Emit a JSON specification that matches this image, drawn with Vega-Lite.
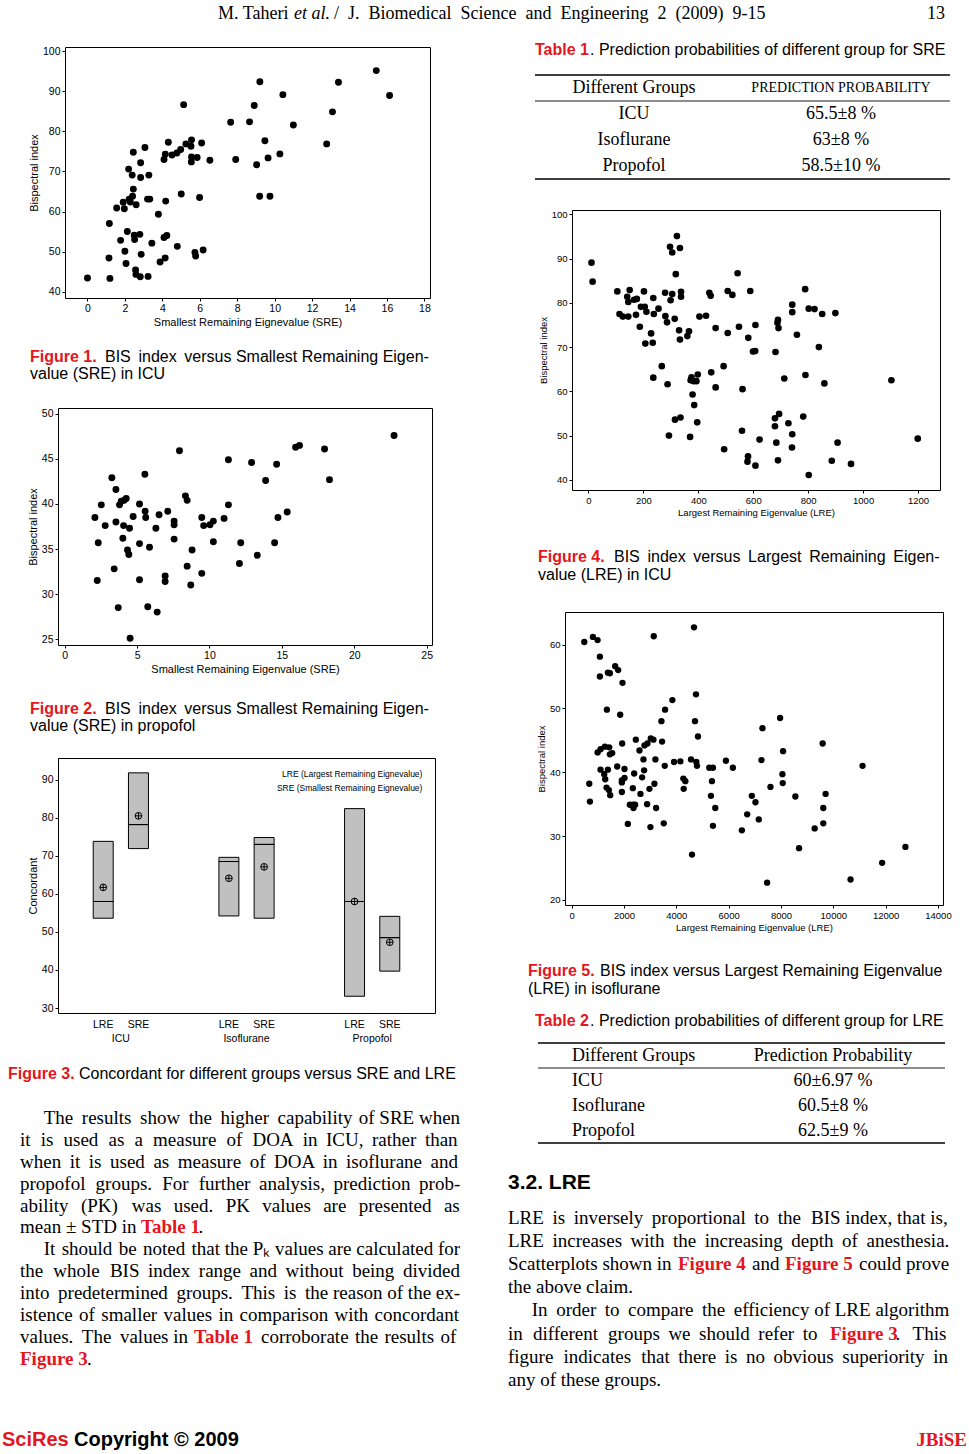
{
"$schema": "https://vega.github.io/schema/vega-lite/v6.json",
"padding": 0,
"background": "white",
"spacing": 0,
"bounds": "flush",
"config": {
 "view": {"stroke": null},
 "font": "Liberation Sans",
 "axis": {"grid": false, "domain": false, "ticks": true, "tickColor": "#000", "tickSize": 3, "labelColor": "#000", "titleColor": "#000", "titleFontWeight": "normal", "labelFont": "Liberation Sans", "titleFont": "Liberation Sans", "labelPadding": 2, "titlePadding": 3, "labelFlush": false}
},
"vconcat": [
 {"width": 969, "height": 41,
  "encoding": {"y": {"datum": 14, "type": "quantitative", "scale": {"domain": [0, 41], "reverse": true, "nice": false, "zero": false}, "axis": null}, "text": {"field": "t"}},
  "layer": [
   {"data": {"values": [{"t": "M. Taheri"}]}, "mark": {"type": "text", "align": "left", "baseline": "middle", "font": "Liberation Serif", "fontSize": 18, "color": "#000"}, "encoding": {"x": {"datum": 218, "type": "quantitative", "scale": {"domain": [0, 969], "nice": false, "zero": false}, "axis": null}}},
   {"data": {"values": [{"t": "et al."}]}, "mark": {"type": "text", "align": "left", "baseline": "middle", "font": "Liberation Serif", "fontSize": 18, "fontStyle": "italic", "color": "#000"}, "encoding": {"x": {"datum": 294, "type": "quantitative", "scale": {"domain": [0, 969], "nice": false, "zero": false}, "axis": null}}},
   {"data": {"values": [{"t": "/\u00a0 J.\u00a0 Biomedical\u00a0 Science\u00a0 and\u00a0 Engineering\u00a0 2\u00a0 (2009)\u00a0 9-15"}]}, "mark": {"type": "text", "align": "left", "baseline": "middle", "font": "Liberation Serif", "fontSize": 18, "color": "#000"}, "encoding": {"x": {"datum": 334, "type": "quantitative", "scale": {"domain": [0, 969], "nice": false, "zero": false}, "axis": null}}},
   {"data": {"values": [{"t": "13"}]}, "mark": {"type": "text", "align": "right", "baseline": "middle", "font": "Liberation Serif", "fontSize": 18, "color": "#000"}, "encoding": {"x": {"datum": 945, "type": "quantitative", "scale": {"domain": [0, 969], "nice": false, "zero": false}, "axis": null}}}
  ]},
 {"hconcat": [
  {"vconcat": [
   {"width": 1, "height": 6, "data": {"values": []}, "mark": "point"},
   {"hconcat": [
    {"width": 65, "height": 1, "data": {"values": []}, "mark": "point"},
    {"width": 365, "height": 251, "view": {"stroke": "#000", "strokeWidth": 1},
     "data": {"values": [{"SRE":0,"BIS":43.4},{"SRE":1.17,"BIS":57},{"SRE":1.15,"BIS":48.4},{"SRE":1.2,"BIS":43.3},{"SRE":1.56,"BIS":60.9},{"SRE":1.77,"BIS":52.8},{"SRE":1.91,"BIS":62.3},{"SRE":1.97,"BIS":60.7},{"SRE":2,"BIS":50.1},{"SRE":2.06,"BIS":47},{"SRE":2.13,"BIS":55},{"SRE":2.2,"BIS":70.6},{"SRE":2.23,"BIS":63.1},{"SRE":2.29,"BIS":62.4},{"SRE":2.39,"BIS":69.1},{"SRE":2.41,"BIS":63.8},{"SRE":2.45,"BIS":65.6},{"SRE":2.45,"BIS":74.8},{"SRE":2.5,"BIS":54.1},{"SRE":2.52,"BIS":53},{"SRE":2.57,"BIS":45.4},{"SRE":2.59,"BIS":44.3},{"SRE":2.6,"BIS":61.7},{"SRE":2.8,"BIS":54.3},{"SRE":2.82,"BIS":43.7},{"SRE":2.84,"BIS":72.2},{"SRE":2.84,"BIS":68.5},{"SRE":2.87,"BIS":49.3},{"SRE":3.07,"BIS":76},{"SRE":3.21,"BIS":63.1},{"SRE":3.28,"BIS":69.1},{"SRE":3.33,"BIS":63.1},{"SRE":3.24,"BIS":43.8},{"SRE":3.44,"BIS":52.1},{"SRE":3.79,"BIS":59.3},{"SRE":3.88,"BIS":47.4},{"SRE":4.09,"BIS":73},{"SRE":4.16,"BIS":74.3},{"SRE":4.09,"BIS":53.5},{"SRE":4.24,"BIS":54},{"SRE":4.15,"BIS":48.4},{"SRE":4.18,"BIS":62.6},{"SRE":4.32,"BIS":77.3},{"SRE":4.52,"BIS":74.1},{"SRE":4.78,"BIS":74.6},{"SRE":4.8,"BIS":51.3},{"SRE":4.98,"BIS":75.5},{"SRE":5.01,"BIS":64.4},{"SRE":5.14,"BIS":86.7},{"SRE":5.26,"BIS":76.9},{"SRE":5.53,"BIS":76.3},{"SRE":5.56,"BIS":77.9},{"SRE":5.56,"BIS":73.6},{"SRE":5.55,"BIS":72.4},{"SRE":5.74,"BIS":49.8},{"SRE":5.78,"BIS":48.9},{"SRE":5.86,"BIS":73.5},{"SRE":5.99,"BIS":63.5},{"SRE":6.1,"BIS":77.1},{"SRE":6.18,"BIS":50.4},{"SRE":6.54,"BIS":72.8},{"SRE":7.65,"BIS":82.3},{"SRE":7.92,"BIS":73},{"SRE":8.66,"BIS":82.4},{"SRE":8.91,"BIS":86.5},{"SRE":9.04,"BIS":71.7},{"SRE":9.21,"BIS":92.4},{"SRE":9.2,"BIS":63.8},{"SRE":9.48,"BIS":77.7},{"SRE":9.65,"BIS":73.4},{"SRE":9.75,"BIS":63.8},{"SRE":10.28,"BIS":74.4},{"SRE":10.44,"BIS":89.2},{"SRE":11,"BIS":81.6},{"SRE":12.78,"BIS":76.9},{"SRE":13.09,"BIS":84.9},{"SRE":13.41,"BIS":92.3},{"SRE":15.43,"BIS":95.2},{"SRE":16.14,"BIS":89}]},
     "mark": {"type": "point", "filled": true, "color": "#000", "opacity": 1, "size": 48},
     "encoding": {
      "x": {"field": "SRE", "type": "quantitative", "scale": {"domain": [-1.2, 18.3], "nice": false, "zero": false}, "axis": {"title": "Smallest Remaining Eignevalue (SRE)", "values": [0,2,4,6,8,10,12,14,16,18], "labelFontSize": 10.5, "titleFontSize": 11}},
      "y": {"field": "BIS", "type": "quantitative", "scale": {"domain": [38.4, 101.1], "nice": false, "zero": false}, "axis": {"title": "Bispectral index", "values": [40,50,60,70,80,90,100], "labelFontSize": 10.5, "titleFontSize": 11}}
     }}
   ], "spacing": 0, "bounds": "flush"},
   {"width": 1, "height": 301, "data": {"values": []}, "mark": "point"},
   {"width": 460, "height": 35,
    "encoding": {"y": {"field": "line", "type": "quantitative", "scale": {"domain": [-0.5, 1.5], "reverse": true, "nice": false, "zero": false}, "axis": null}, "text": {"field": "t"}},
    "layer": [
     {"data": {"values": [{"line": 0, "t": "Figure 1."}]}, "mark": {"type": "text", "align": "left", "baseline": "middle", "font": "Liberation Sans", "fontSize": 16, "fontWeight": "bold", "color": "#e3161d"}, "encoding": {"x": {"datum": 30, "type": "quantitative", "scale": {"domain": [0, 460], "nice": false, "zero": false}, "axis": null}}},
     {"data": {"values": [{"line": 0, "t": "BIS \u2009index \u2009versus Smallest Remaining Eigen-"}]}, "mark": {"type": "text", "align": "left", "baseline": "middle", "font": "Liberation Sans", "fontSize": 16, "color": "#000"}, "encoding": {"x": {"datum": 105, "type": "quantitative", "scale": {"domain": [0, 460], "nice": false, "zero": false}, "axis": null}}},
     {"data": {"values": [{"line": 1, "t": "value (SRE) in ICU"}]}, "mark": {"type": "text", "align": "left", "baseline": "middle", "font": "Liberation Sans", "fontSize": 16, "color": "#000"}, "encoding": {"x": {"datum": 30, "type": "quantitative", "scale": {"domain": [0, 460], "nice": false, "zero": false}, "axis": null}}}
    ]},
   {"width": 1, "height": 25, "data": {"values": []}, "mark": "point"},
   {"hconcat": [
    {"width": 58, "height": 1, "data": {"values": []}, "mark": "point"},
    {"width": 374, "height": 237, "view": {"stroke": "#000", "strokeWidth": 1},
     "data": {"values": [{"SRE":2.09,"BIS":38.5},{"SRE":2.32,"BIS":35.7},{"SRE":2.25,"BIS":31.5},{"SRE":2.53,"BIS":39.9},{"SRE":2.8,"BIS":37.6},{"SRE":3.26,"BIS":42.9},{"SRE":3.42,"BIS":32.8},{"SRE":3.54,"BIS":41.6},{"SRE":3.54,"BIS":38},{"SRE":3.7,"BIS":28.5},{"SRE":3.79,"BIS":39.9},{"SRE":3.91,"BIS":40.3},{"SRE":4.02,"BIS":36.2},{"SRE":4.07,"BIS":37.6},{"SRE":4.11,"BIS":40.4},{"SRE":4.25,"BIS":40.6},{"SRE":4.34,"BIS":34.9},{"SRE":4.43,"BIS":34.4},{"SRE":4.48,"BIS":37.3},{"SRE":4.52,"BIS":25.1},{"SRE":4.73,"BIS":38.6},{"SRE":5.17,"BIS":40},{"SRE":5.17,"BIS":35.6},{"SRE":5.17,"BIS":31.6},{"SRE":5.54,"BIS":43.3},{"SRE":5.56,"BIS":39.2},{"SRE":5.6,"BIS":38.5},{"SRE":5.74,"BIS":28.6},{"SRE":5.86,"BIS":35.2},{"SRE":6.3,"BIS":37.3},{"SRE":6.39,"BIS":28},{"SRE":6.52,"BIS":38.8},{"SRE":6.94,"BIS":32},{"SRE":6.94,"BIS":31.4},{"SRE":7.12,"BIS":39.2},{"SRE":7.56,"BIS":38.1},{"SRE":7.56,"BIS":37.7},{"SRE":7.56,"BIS":36.1},{"SRE":7.93,"BIS":45.9},{"SRE":8.34,"BIS":40.9},{"SRE":8.46,"BIS":40.4},{"SRE":8.46,"BIS":33.1},{"SRE":8.71,"BIS":31},{"SRE":8.8,"BIS":34.9},{"SRE":9.47,"BIS":38.5},{"SRE":9.47,"BIS":32.3},{"SRE":9.6,"BIS":37.6},{"SRE":10.04,"BIS":37.7},{"SRE":10.27,"BIS":38.1},{"SRE":10.27,"BIS":35.8},{"SRE":11.01,"BIS":38.4},{"SRE":11.31,"BIS":44.9},{"SRE":11.31,"BIS":39.9},{"SRE":12.16,"BIS":35.7},{"SRE":12.07,"BIS":33.4},{"SRE":12.91,"BIS":44.6},{"SRE":13.3,"BIS":34.3},{"SRE":13.88,"BIS":42.6},{"SRE":14.5,"BIS":35.7},{"SRE":14.64,"BIS":44.4},{"SRE":14.73,"BIS":38.5},{"SRE":15.37,"BIS":39.1},{"SRE":15.95,"BIS":46.3},{"SRE":16.22,"BIS":46.5},{"SRE":17.95,"BIS":46.1},{"SRE":18.29,"BIS":42.7},{"SRE":22.75,"BIS":47.6}]},
     "mark": {"type": "point", "filled": true, "color": "#000", "opacity": 1, "size": 48},
     "encoding": {
      "x": {"field": "SRE", "type": "quantitative", "scale": {"domain": [-0.46, 25.37], "nice": false, "zero": false}, "axis": {"title": "Smallest Remaining Eigenvalue (SRE)", "values": [0,5,10,15,20,25], "labelFontSize": 10.5, "titleFontSize": 11}},
      "y": {"field": "BIS", "type": "quantitative", "scale": {"domain": [24.35, 50.65], "nice": false, "zero": false}, "axis": {"title": "Bispectral index", "values": [25,30,35,40,45,50], "labelFontSize": 10.5, "titleFontSize": 11}}
     }}
   ], "spacing": 0, "bounds": "flush"},
   {"width": 1, "height": 292, "data": {"values": []}, "mark": "point"},
   {"width": 460, "height": 35,
    "encoding": {"y": {"field": "line", "type": "quantitative", "scale": {"domain": [-0.5, 1.5], "reverse": true, "nice": false, "zero": false}, "axis": null}, "text": {"field": "t"}},
    "layer": [
     {"data": {"values": [{"line": 0, "t": "Figure 2."}]}, "mark": {"type": "text", "align": "left", "baseline": "middle", "font": "Liberation Sans", "fontSize": 16, "fontWeight": "bold", "color": "#e3161d"}, "encoding": {"x": {"datum": 30, "type": "quantitative", "scale": {"domain": [0, 460], "nice": false, "zero": false}, "axis": null}}},
     {"data": {"values": [{"line": 0, "t": "BIS \u2009index \u2009versus Smallest Remaining Eigen-"}]}, "mark": {"type": "text", "align": "left", "baseline": "middle", "font": "Liberation Sans", "fontSize": 16, "color": "#000"}, "encoding": {"x": {"datum": 105, "type": "quantitative", "scale": {"domain": [0, 460], "nice": false, "zero": false}, "axis": null}}},
     {"data": {"values": [{"line": 1, "t": "value (SRE) in propofol"}]}, "mark": {"type": "text", "align": "left", "baseline": "middle", "font": "Liberation Sans", "fontSize": 16, "color": "#000"}, "encoding": {"x": {"datum": 30, "type": "quantitative", "scale": {"domain": [0, 460], "nice": false, "zero": false}, "axis": null}}}
    ]},
   {"width": 1, "height": 23, "data": {"values": []}, "mark": "point"},
   {"hconcat": [
    {"width": 58, "height": 1, "data": {"values": []}, "mark": "point"},
    {"width": 377, "height": 255, "view": {"stroke": "#000", "strokeWidth": 1},
     "data": {"values": [
      {"group": "ICU", "stat": "LRE", "lo": 53.6, "hi": 73.8, "median": 58, "mean": 61.7},
      {"group": "ICU", "stat": "SRE", "lo": 71.9, "hi": 91.8, "median": 78.2, "mean": 80.5},
      {"group": "Isoflurane", "stat": "LRE", "lo": 54.2, "hi": 69.6, "median": 68.5, "mean": 64.1},
      {"group": "Isoflurane", "stat": "SRE", "lo": 53.6, "hi": 74.8, "median": 73, "mean": 67.1},
      {"group": "Propofol", "stat": "LRE", "lo": 33.1, "hi": 82.4, "median": 58, "mean": 58},
      {"group": "Propofol", "stat": "SRE", "lo": 39.7, "hi": 54.1, "median": 48.5, "mean": 47.3}
     ]},
     "encoding": {
      "x": {"field": "group", "type": "nominal", "sort": null, "scale": {"paddingInner": 0, "paddingOuter": 0}, "axis": {"title": null, "ticks": false, "labelAngle": 0, "labelPadding": 20, "labelFontSize": 10.5}}
     },
     "layer": [
      {"mark": {"type": "bar", "fill": "#c0c0c0", "stroke": "#000", "strokeWidth": 1},
       "encoding": {"xOffset": {"field": "stat", "type": "nominal", "sort": null, "scale": {"paddingInner": 0.4333, "paddingOuter": 1.3}},
        "y": {"field": "lo", "type": "quantitative", "scale": {"domain": [28.7, 95.7], "nice": false, "zero": false}, "axis": {"title": "Concordant", "values": [30,40,50,60,70,80,90], "labelFontSize": 10.5, "titleFontSize": 11}}, "y2": {"field": "hi"}}},
      {"mark": {"type": "bar", "fill": "transparent", "stroke": "#000", "strokeWidth": 1},
       "encoding": {"xOffset": {"field": "stat", "type": "nominal", "sort": null}, "y": {"field": "median", "type": "quantitative"}, "y2": {"field": "median"}}},
      {"mark": {"type": "point", "shape": "circle", "filled": false, "stroke": "#000", "strokeWidth": 1, "size": 45, "opacity": 1},
       "encoding": {"xOffset": {"field": "stat", "type": "nominal", "sort": null}, "y": {"field": "mean", "type": "quantitative"}}},
      {"mark": {"type": "point", "shape": "M-1,0L1,0M0,-1L0,1", "filled": false, "stroke": "#000", "strokeWidth": 1, "size": 45, "opacity": 1},
       "encoding": {"xOffset": {"field": "stat", "type": "nominal", "sort": null}, "y": {"field": "mean", "type": "quantitative"}}},
      {"mark": {"type": "text", "font": "Liberation Sans", "fontSize": 10.5, "baseline": "middle", "align": "center", "color": "#000"},
       "encoding": {"xOffset": {"field": "stat", "type": "nominal", "sort": null}, "y": {"datum": 25.55, "type": "quantitative"}, "text": {"field": "stat"}}},
      {"data": {"values": [{"t": "LRE (Largest Remaining Eignevalue)"}]},
       "mark": {"type": "text", "font": "Liberation Sans", "fontSize": 8.5, "baseline": "middle", "align": "right", "color": "#000"},
       "encoding": {"x": {"datum": "Propofol", "type": "nominal", "bandPosition": 0.9}, "y": {"datum": 91.6, "type": "quantitative"}, "text": {"field": "t"}}},
      {"data": {"values": [{"t": "SRE (Smallest Remaining Eignevalue)"}]},
       "mark": {"type": "text", "font": "Liberation Sans", "fontSize": 8.5, "baseline": "middle", "align": "right", "color": "#000"},
       "encoding": {"x": {"datum": "Propofol", "type": "nominal", "bandPosition": 0.9}, "y": {"datum": 87.8, "type": "quantitative"}, "text": {"field": "t"}}}
     ]}
   ], "spacing": 0, "bounds": "flush"},
   {"width": 1, "height": 307, "data": {"values": []}, "mark": "point"},
   {"width": 460, "height": 18,
    "encoding": {"y": {"field": "line", "type": "quantitative", "scale": {"domain": [-0.5, 0.5], "reverse": true, "nice": false, "zero": false}, "axis": null}, "text": {"field": "t"}},
    "layer": [
     {"data": {"values": [{"line": 0, "t": "Figure 3."}]}, "mark": {"type": "text", "align": "left", "baseline": "middle", "font": "Liberation Sans", "fontSize": 16, "fontWeight": "bold", "color": "#e3161d"}, "encoding": {"x": {"datum": 8, "type": "quantitative", "scale": {"domain": [0, 460], "nice": false, "zero": false}, "axis": null}}},
     {"data": {"values": [{"line": 0, "t": "Concordant for different groups versus SRE and LRE"}]}, "mark": {"type": "text", "align": "left", "baseline": "middle", "font": "Liberation Sans", "fontSize": 16, "color": "#000"}, "encoding": {"x": {"datum": 79, "type": "quantitative", "scale": {"domain": [0, 460], "nice": false, "zero": false}, "axis": null}}}
    ]},
   {"width": 1, "height": 24, "data": {"values": []}, "mark": "point"},
   {"width": 460, "height": 262.8,
    "encoding": {"y": {"field": "line", "type": "quantitative", "scale": {"domain": [-0.5, 11.5], "reverse": true, "nice": false, "zero": false}, "axis": null}, "text": {"field": "t"}},
    "layer": [
     {"data": {"values": [
       {"line": 0, "t": "\u200b\u00a0\u00a0\u00a0\u00a0\u00a0The \u2009results \u2009show \u2009the \u2009higher \u2009capability \u200aof SRE when"},
       {"line": 1, "t": "it \u2009\u200ais \u2009\u200aused \u2009\u200aas \u2009\u200aa \u2009\u200ameasure \u2009\u200aof \u2009\u200aDOA \u2009\u200ain \u2009ICU, \u2009rather \u2009than"},
       {"line": 2, "t": "when \u2009it \u2009is \u2009used \u2009as \u2009measure \u2009of \u2009DOA \u2009in \u2009isoflurane \u2009and"},
       {"line": 3, "t": "propofol \u2009\u200agroups. \u2009\u200aFor \u2009\u200afurther \u2009analysis, \u2009prediction \u2009prob-"},
       {"line": 4, "t": "ability \u2009\u2009(PK) \u2009\u2009\u200awas \u2009\u2009used. \u2009\u2009PK \u2009\u2009values \u2009\u2009are \u2009\u2009presented \u2009\u2009as"},
       {"line": 5, "t": "mean ± STD in"},
       {"line": 6, "t": "\u200b\u00a0\u00a0\u00a0\u00a0\u00a0It \u200ashould \u200abe \u200anoted \u200athat the P\u2096 values are calculated for"},
       {"line": 7, "t": "the \u2009\u200awhole \u2009\u200aBIS \u2009index \u2009range \u2009and \u2009without \u2009being \u2009divided"},
       {"line": 8, "t": "into \u2009predetermined \u2009groups. \u2009This \u2009is \u2009the reason of the ex-"},
       {"line": 9, "t": "istence \u200aof \u200asmaller \u200avalues \u200ain \u200acomparison \u200awith \u200aconcordant"},
       {"line": 10, "t": "values. \u2009The \u2009values in"}
      ]}, "mark": {"type": "text", "align": "left", "baseline": "middle", "font": "Liberation Serif", "fontSize": 19, "color": "#000"}, "encoding": {"x": {"datum": 20, "type": "quantitative", "scale": {"domain": [0, 460], "nice": false, "zero": false}, "axis": null}}},
     {"data": {"values": [{"line": 5, "t": "Table 1"}]}, "mark": {"type": "text", "align": "left", "baseline": "middle", "font": "Liberation Serif", "fontSize": 19, "fontWeight": "bold", "color": "#e3161d"}, "encoding": {"x": {"datum": 141, "type": "quantitative", "scale": {"domain": [0, 460], "nice": false, "zero": false}, "axis": null}}},
     {"data": {"values": [{"line": 5, "t": "."}]}, "mark": {"type": "text", "align": "left", "baseline": "middle", "font": "Liberation Serif", "fontSize": 19, "color": "#000"}, "encoding": {"x": {"datum": 198.5, "type": "quantitative", "scale": {"domain": [0, 460], "nice": false, "zero": false}, "axis": null}}},
     {"data": {"values": [{"line": 10, "t": "Table 1"}]}, "mark": {"type": "text", "align": "left", "baseline": "middle", "font": "Liberation Serif", "fontSize": 19, "fontWeight": "bold", "color": "#e3161d"}, "encoding": {"x": {"datum": 194, "type": "quantitative", "scale": {"domain": [0, 460], "nice": false, "zero": false}, "axis": null}}},
     {"data": {"values": [{"line": 10, "t": "corroborate \u200athe \u200aresults \u200aof"}]}, "mark": {"type": "text", "align": "left", "baseline": "middle", "font": "Liberation Serif", "fontSize": 19, "color": "#000"}, "encoding": {"x": {"datum": 261, "type": "quantitative", "scale": {"domain": [0, 460], "nice": false, "zero": false}, "axis": null}}},
     {"data": {"values": [{"line": 11, "t": "Figure 3"}]}, "mark": {"type": "text", "align": "left", "baseline": "middle", "font": "Liberation Serif", "fontSize": 19, "fontWeight": "bold", "color": "#e3161d"}, "encoding": {"x": {"datum": 20, "type": "quantitative", "scale": {"domain": [0, 460], "nice": false, "zero": false}, "axis": null}}},
     {"data": {"values": [{"line": 11, "t": "."}]}, "mark": {"type": "text", "align": "left", "baseline": "middle", "font": "Liberation Serif", "fontSize": 19, "color": "#000"}, "encoding": {"x": {"datum": 87, "type": "quantitative", "scale": {"domain": [0, 460], "nice": false, "zero": false}, "axis": null}}}
    ]}
  ], "spacing": 0, "bounds": "flush"},
  {"vconcat": [
   {"width": 442, "height": 18,
    "encoding": {"y": {"field": "line", "type": "quantitative", "scale": {"domain": [-0.5, 0.5], "reverse": true, "nice": false, "zero": false}, "axis": null}, "text": {"field": "t"}},
    "layer": [
     {"data": {"values": [{"line": 0, "t": "Table 1"}]}, "mark": {"type": "text", "align": "left", "baseline": "middle", "font": "Liberation Sans", "fontSize": 16, "fontWeight": "bold", "color": "#e3161d"}, "encoding": {"x": {"datum": 27, "type": "quantitative", "scale": {"domain": [0, 442], "nice": false, "zero": false}, "axis": null}}},
     {"data": {"values": [{"line": 0, "t": ". Prediction probabilities of different group for SRE"}]}, "mark": {"type": "text", "align": "left", "baseline": "middle", "font": "Liberation Sans", "fontSize": 16, "color": "#000"}, "encoding": {"x": {"datum": 82, "type": "quantitative", "scale": {"domain": [0, 442], "nice": false, "zero": false}, "axis": null}}}
    ]},
   {"width": 1, "height": 16, "data": {"values": []}, "mark": "point"},
   {"width": 442, "height": 104,
    "data": {"values": [
     {"row": 0, "g": "Different Groups", "p": "PREDICTION PROBABILITY"},
     {"row": 1, "g": "ICU", "p": "65.5±8 %"},
     {"row": 2, "g": "Isoflurane", "p": "63±8 %"},
     {"row": 3, "g": "Propofol", "p": "58.5±10 %"}
    ]},
    "layer": [
     {"data": {"values": [{}]}, "mark": {"type": "rule", "color": "#000", "strokeWidth": 1.3}, "encoding": {"x": {"datum": 27, "type": "quantitative", "scale": {"domain": [0, 442], "nice": false, "zero": false}, "axis": null}, "x2": {"datum": 442}, "y": {"datum": -0.5, "type": "quantitative", "scale": {"domain": [-0.5, 3.5], "reverse": true, "nice": false, "zero": false}, "axis": null}}},
     {"data": {"values": [{}]}, "mark": {"type": "rule", "color": "#000", "strokeWidth": 0.9}, "encoding": {"x": {"datum": 27, "type": "quantitative", "scale": {"domain": [0, 442], "nice": false, "zero": false}, "axis": null}, "x2": {"datum": 442}, "y": {"datum": 0.5, "type": "quantitative", "scale": {"domain": [-0.5, 3.5], "reverse": true, "nice": false, "zero": false}, "axis": null}}},
     {"data": {"values": [{}]}, "mark": {"type": "rule", "color": "#000", "strokeWidth": 1.3}, "encoding": {"x": {"datum": 27, "type": "quantitative", "scale": {"domain": [0, 442], "nice": false, "zero": false}, "axis": null}, "x2": {"datum": 442}, "y": {"datum": 3.5, "type": "quantitative", "scale": {"domain": [-0.5, 3.5], "reverse": true, "nice": false, "zero": false}, "axis": null}}},
     {"mark": {"type": "text", "align": "center", "baseline": "middle", "font": "Liberation Serif", "fontSize": 18, "color": "#000"}, "encoding": {"x": {"datum": 126, "type": "quantitative", "scale": {"domain": [0, 442], "nice": false, "zero": false}, "axis": null}, "y": {"field": "row", "type": "quantitative", "scale": {"domain": [-0.5, 3.5], "reverse": true, "nice": false, "zero": false}, "axis": null}, "text": {"field": "g"}}},
     {"transform": [{"filter": "datum.row > 0"}], "mark": {"type": "text", "align": "center", "baseline": "middle", "font": "Liberation Serif", "fontSize": 18, "color": "#000"}, "encoding": {"x": {"datum": 333, "type": "quantitative", "scale": {"domain": [0, 442], "nice": false, "zero": false}, "axis": null}, "y": {"field": "row", "type": "quantitative", "scale": {"domain": [-0.5, 3.5], "reverse": true, "nice": false, "zero": false}, "axis": null}, "text": {"field": "p"}}},
     {"transform": [{"filter": "datum.row == 0"}], "mark": {"type": "text", "align": "center", "baseline": "middle", "font": "Liberation Serif", "fontSize": 14, "color": "#000"}, "encoding": {"x": {"datum": 333, "type": "quantitative", "scale": {"domain": [0, 442], "nice": false, "zero": false}, "axis": null}, "y": {"field": "row", "type": "quantitative", "scale": {"domain": [-0.5, 3.5], "reverse": true, "nice": false, "zero": false}, "axis": null}, "text": {"field": "p"}}}
    ]},
   {"width": 1, "height": 31, "data": {"values": []}, "mark": "point"},
   {"hconcat": [
    {"width": 64, "height": 1, "data": {"values": []}, "mark": "point"},
    {"width": 368, "height": 280, "view": {"stroke": "#000", "strokeWidth": 1},
     "data": {"values": [{"LRE":11,"BIS":89.1},{"LRE":15,"BIS":84.8},{"LRE":105,"BIS":82.6},{"LRE":113,"BIS":77.5},{"LRE":125,"BIS":76.9},{"LRE":141,"BIS":81.4},{"LRE":145,"BIS":80.2},{"LRE":145,"BIS":76.9},{"LRE":150,"BIS":82.9},{"LRE":166,"BIS":80.7},{"LRE":176,"BIS":80.9},{"LRE":173,"BIS":77.3},{"LRE":187,"BIS":74.6},{"LRE":191,"BIS":79.1},{"LRE":202,"BIS":82.6},{"LRE":205,"BIS":79.1},{"LRE":207,"BIS":70.8},{"LRE":211,"BIS":78},{"LRE":228,"BIS":73.1},{"LRE":234,"BIS":71},{"LRE":236,"BIS":81.1},{"LRE":238,"BIS":77.5},{"LRE":236,"BIS":63.1},{"LRE":255,"BIS":78.7},{"LRE":267,"BIS":65.7},{"LRE":279,"BIS":82.3},{"LRE":280,"BIS":77},{"LRE":286,"BIS":75.6},{"LRE":288,"BIS":61.6},{"LRE":293,"BIS":50},{"LRE":297,"BIS":92.7},{"LRE":299,"BIS":80.6},{"LRE":305,"BIS":91.4},{"LRE":305,"BIS":82},{"LRE":314,"BIS":76.4},{"LRE":318,"BIS":86.5},{"LRE":315,"BIS":53.6},{"LRE":322,"BIS":95.1},{"LRE":330,"BIS":73.8},{"LRE":333,"BIS":92.4},{"LRE":333,"BIS":71.7},{"LRE":337,"BIS":82.5},{"LRE":337,"BIS":81.4},{"LRE":335,"BIS":54.1},{"LRE":360,"BIS":72.5},{"LRE":366,"BIS":73.6},{"LRE":370,"BIS":49.7},{"LRE":372,"BIS":62.5},{"LRE":375,"BIS":63.2},{"LRE":383,"BIS":62.3},{"LRE":379,"BIS":59.3},{"LRE":385,"BIS":56.9},{"LRE":393,"BIS":62.3},{"LRE":398,"BIS":63.8},{"LRE":396,"BIS":53},{"LRE":404,"BIS":76.9},{"LRE":428,"BIS":77.1},{"LRE":440,"BIS":82.3},{"LRE":445,"BIS":81.6},{"LRE":447,"BIS":64.3},{"LRE":463,"BIS":74.3},{"LRE":463,"BIS":60.9},{"LRE":494,"BIS":46.9},{"LRE":492,"BIS":65.7},{"LRE":507,"BIS":82.7},{"LRE":507,"BIS":73.2},{"LRE":524,"BIS":81.8},{"LRE":543,"BIS":86.7},{"LRE":548,"BIS":74.6},{"LRE":561,"BIS":60.5},{"LRE":559,"BIS":51.1},{"LRE":579,"BIS":44.1},{"LRE":581,"BIS":45.3},{"LRE":589,"BIS":82.7},{"LRE":582,"BIS":72.1},{"LRE":599,"BIS":69},{"LRE":607,"BIS":69.1},{"LRE":608,"BIS":75},{"LRE":608,"BIS":43.2},{"LRE":623,"BIS":49.1},{"LRE":681,"BIS":68.9},{"LRE":679,"BIS":53.9},{"LRE":679,"BIS":52.1},{"LRE":684,"BIS":48.4},{"LRE":688,"BIS":75.5},{"LRE":690,"BIS":76.2},{"LRE":692,"BIS":74.3},{"LRE":690,"BIS":44.4},{"LRE":694,"BIS":54.9},{"LRE":713,"BIS":62.9},{"LRE":728,"BIS":52.8},{"LRE":742,"BIS":77.9},{"LRE":742,"BIS":50.3},{"LRE":742,"BIS":79.6},{"LRE":741,"BIS":47.3},{"LRE":759,"BIS":72.8},{"LRE":782,"BIS":54.3},{"LRE":789,"BIS":83.1},{"LRE":790,"BIS":63.7},{"LRE":802,"BIS":78.7},{"LRE":802,"BIS":41.1},{"LRE":823,"BIS":78.6},{"LRE":839,"BIS":70},{"LRE":851,"BIS":77.5},{"LRE":859,"BIS":61.8},{"LRE":886,"BIS":44.3},{"LRE":899,"BIS":77.7},{"LRE":907,"BIS":48.4},{"LRE":956,"BIS":43.6},{"LRE":1103,"BIS":62.5},{"LRE":1199,"BIS":49.3}]},
     "mark": {"type": "point", "filled": true, "color": "#000", "opacity": 1, "size": 44},
     "encoding": {
      "x": {"field": "LRE", "type": "quantitative", "scale": {"domain": [-60, 1280], "nice": false, "zero": false}, "axis": {"title": "Largest Remaining Eigenvalue (LRE)", "values": [0,200,400,600,800,1000,1200], "format": "d", "labelFontSize": 9.5, "titleFontSize": 9.5}},
      "y": {"field": "BIS", "type": "quantitative", "scale": {"domain": [37.7, 101], "nice": false, "zero": false}, "axis": {"title": "Bispectral index", "values": [40,50,60,70,80,90,100], "labelFontSize": 9.5, "titleFontSize": 9.5}}
     }}
   ], "spacing": 0, "bounds": "flush"},
   {"width": 1, "height": 338, "data": {"values": []}, "mark": "point"},
   {"width": 442, "height": 36,
    "encoding": {"y": {"field": "line", "type": "quantitative", "scale": {"domain": [-0.5, 1.5], "reverse": true, "nice": false, "zero": false}, "axis": null}, "text": {"field": "t"}},
    "layer": [
     {"data": {"values": [{"line": 0, "t": "Figure 4."}]}, "mark": {"type": "text", "align": "left", "baseline": "middle", "font": "Liberation Sans", "fontSize": 16, "fontWeight": "bold", "color": "#e3161d"}, "encoding": {"x": {"datum": 30, "type": "quantitative", "scale": {"domain": [0, 442], "nice": false, "zero": false}, "axis": null}}},
     {"data": {"values": [{"line": 0, "t": "BIS \u2009index \u2009versus \u2009Largest \u2009Remaining \u2009Eigen-"}]}, "mark": {"type": "text", "align": "left", "baseline": "middle", "font": "Liberation Sans", "fontSize": 16, "color": "#000"}, "encoding": {"x": {"datum": 106, "type": "quantitative", "scale": {"domain": [0, 442], "nice": false, "zero": false}, "axis": null}}},
     {"data": {"values": [{"line": 1, "t": "value (LRE) in ICU"}]}, "mark": {"type": "text", "align": "left", "baseline": "middle", "font": "Liberation Sans", "fontSize": 16, "color": "#000"}, "encoding": {"x": {"datum": 30, "type": "quantitative", "scale": {"domain": [0, 442], "nice": false, "zero": false}, "axis": null}}}
    ]},
   {"width": 1, "height": 28, "data": {"values": []}, "mark": "point"},
   {"hconcat": [
    {"width": 57, "height": 1, "data": {"values": []}, "mark": "point"},
    {"width": 378, "height": 293, "view": {"stroke": "#000", "strokeWidth": 1},
     "data": {"values": [{"LRE":483,"BIS":60.4},{"LRE":813,"BIS":61.2},{"LRE":991,"BIS":60.7},{"LRE":1080,"BIS":58.1},{"LRE":1080,"BIS":55},{"LRE":673,"BIS":38.2},{"LRE":699,"BIS":35.4},{"LRE":991,"BIS":43.1},{"LRE":1105,"BIS":43.6},{"LRE":1105,"BIS":40.4},{"LRE":1271,"BIS":44},{"LRE":1245,"BIS":39.7},{"LRE":1283,"BIS":38.9},{"LRE":1334,"BIS":37.6},{"LRE":1347,"BIS":49.8},{"LRE":1385,"BIS":55.6},{"LRE":1385,"BIS":40.4},{"LRE":1436,"BIS":43.9},{"LRE":1423,"BIS":37.2},{"LRE":1461,"BIS":55.5},{"LRE":1461,"BIS":42.8},{"LRE":1474,"BIS":36.4},{"LRE":1550,"BIS":43},{"LRE":1664,"BIS":56.6},{"LRE":1741,"BIS":40.9},{"LRE":1779,"BIS":56},{"LRE":1855,"BIS":49},{"LRE":1919,"BIS":38.7},{"LRE":1919,"BIS":38.4},{"LRE":1944,"BIS":54},{"LRE":1931,"BIS":44.5},{"LRE":1919,"BIS":36.9},{"LRE":2020,"BIS":40.5},{"LRE":2020,"BIS":39.1},{"LRE":2147,"BIS":31.9},{"LRE":2224,"BIS":34.9},{"LRE":2338,"BIS":37.5},{"LRE":2351,"BIS":34.9},{"LRE":2363,"BIS":34.4},{"LRE":2389,"BIS":39.8},{"LRE":2452,"BIS":45.1},{"LRE":2427,"BIS":34.9},{"LRE":2592,"BIS":43.4},{"LRE":2630,"BIS":36.6},{"LRE":2694,"BIS":39.2},{"LRE":2745,"BIS":42},{"LRE":2770,"BIS":40.3},{"LRE":2783,"BIS":44.2},{"LRE":2884,"BIS":35},{"LRE":2897,"BIS":44.5},{"LRE":2973,"BIS":37.4},{"LRE":3011,"BIS":31.4},{"LRE":3024,"BIS":45.3},{"LRE":3126,"BIS":45.1},{"LRE":3138,"BIS":61.3},{"LRE":3164,"BIS":38.2},{"LRE":3202,"BIS":42},{"LRE":3227,"BIS":34.4},{"LRE":3456,"BIS":44.8},{"LRE":3431,"BIS":48},{"LRE":3520,"BIS":32},{"LRE":3570,"BIS":49.8},{"LRE":3558,"BIS":41},{"LRE":3850,"BIS":51.3},{"LRE":3913,"BIS":41.6},{"LRE":4155,"BIS":41.7},{"LRE":4269,"BIS":39},{"LRE":4282,"BIS":37.4},{"LRE":4346,"BIS":38.6},{"LRE":4562,"BIS":42},{"LRE":4600,"BIS":27.1},{"LRE":4676,"BIS":62.7},{"LRE":4714,"BIS":48},{"LRE":4752,"BIS":52.2},{"LRE":4765,"BIS":41.6},{"LRE":4790,"BIS":41},{"LRE":4828,"BIS":45.6},{"LRE":5260,"BIS":40.7},{"LRE":5400,"BIS":40.7},{"LRE":5362,"BIS":38.6},{"LRE":5324,"BIS":36.3},{"LRE":5400,"BIS":31.6},{"LRE":5489,"BIS":34.4},{"LRE":5896,"BIS":41.8},{"LRE":6162,"BIS":40.7},{"LRE":6506,"BIS":30.9},{"LRE":6709,"BIS":33.4},{"LRE":6887,"BIS":36.3},{"LRE":7026,"BIS":35.3},{"LRE":7153,"BIS":32.6},{"LRE":7255,"BIS":41.9},{"LRE":7293,"BIS":46.9},{"LRE":7471,"BIS":22.7},{"LRE":7598,"BIS":37.7},{"LRE":7967,"BIS":48.5},{"LRE":8056,"BIS":39.7},{"LRE":8068,"BIS":38.3},{"LRE":8081,"BIS":43.3},{"LRE":8551,"BIS":36.2},{"LRE":8691,"BIS":28.1},{"LRE":9288,"BIS":31.2},{"LRE":9593,"BIS":44.5},{"LRE":9618,"BIS":34.4},{"LRE":9618,"BIS":32},{"LRE":9707,"BIS":36.6},{"LRE":10660,"BIS":23.2},{"LRE":11118,"BIS":41},{"LRE":11867,"BIS":25.8},{"LRE":12757,"BIS":28.3}]},
     "mark": {"type": "point", "filled": true, "color": "#000", "opacity": 1, "size": 40},
     "encoding": {
      "x": {"field": "LRE", "type": "quantitative", "scale": {"domain": [-254, 14193], "nice": false, "zero": false}, "axis": {"title": "Largest Remaining Eigenvalue (LRE)", "values": [0,2000,4000,6000,8000,10000,12000,14000], "format": "d", "labelFontSize": 9.5, "titleFontSize": 9.5}},
      "y": {"field": "BIS", "type": "quantitative", "scale": {"domain": [19.2, 65.1], "nice": false, "zero": false}, "axis": {"title": "Bispectral index", "values": [20,30,40,50,60], "labelFontSize": 9.5, "titleFontSize": 9.5}}
     }}
   ], "spacing": 0, "bounds": "flush"},
   {"width": 1, "height": 350, "data": {"values": []}, "mark": "point"},
   {"width": 442, "height": 36,
    "encoding": {"y": {"field": "line", "type": "quantitative", "scale": {"domain": [-0.5, 1.5], "reverse": true, "nice": false, "zero": false}, "axis": null}, "text": {"field": "t"}},
    "layer": [
     {"data": {"values": [{"line": 0, "t": "Figure 5."}]}, "mark": {"type": "text", "align": "left", "baseline": "middle", "font": "Liberation Sans", "fontSize": 16, "fontWeight": "bold", "color": "#e3161d"}, "encoding": {"x": {"datum": 20, "type": "quantitative", "scale": {"domain": [0, 442], "nice": false, "zero": false}, "axis": null}}},
     {"data": {"values": [{"line": 0, "t": "BIS index versus Largest Remaining Eigenvalue"}]}, "mark": {"type": "text", "align": "left", "baseline": "middle", "font": "Liberation Sans", "fontSize": 16, "color": "#000"}, "encoding": {"x": {"datum": 92, "type": "quantitative", "scale": {"domain": [0, 442], "nice": false, "zero": false}, "axis": null}}},
     {"data": {"values": [{"line": 1, "t": "(LRE) in isoflurane"}]}, "mark": {"type": "text", "align": "left", "baseline": "middle", "font": "Liberation Sans", "fontSize": 16, "color": "#000"}, "encoding": {"x": {"datum": 20, "type": "quantitative", "scale": {"domain": [0, 442], "nice": false, "zero": false}, "axis": null}}}
    ]},
   {"width": 1, "height": 14, "data": {"values": []}, "mark": "point"},
   {"width": 442, "height": 18,
    "encoding": {"y": {"field": "line", "type": "quantitative", "scale": {"domain": [-0.5, 0.5], "reverse": true, "nice": false, "zero": false}, "axis": null}, "text": {"field": "t"}},
    "layer": [
     {"data": {"values": [{"line": 0, "t": "Table 2"}]}, "mark": {"type": "text", "align": "left", "baseline": "middle", "font": "Liberation Sans", "fontSize": 16, "fontWeight": "bold", "color": "#e3161d"}, "encoding": {"x": {"datum": 27, "type": "quantitative", "scale": {"domain": [0, 442], "nice": false, "zero": false}, "axis": null}}},
     {"data": {"values": [{"line": 0, "t": ". Prediction probabilities of different group for LRE"}]}, "mark": {"type": "text", "align": "left", "baseline": "middle", "font": "Liberation Sans", "fontSize": 16, "color": "#000"}, "encoding": {"x": {"datum": 82, "type": "quantitative", "scale": {"domain": [0, 442], "nice": false, "zero": false}, "axis": null}}}
    ]},
   {"width": 1, "height": 13, "data": {"values": []}, "mark": "point"},
   {"width": 442, "height": 100,
    "data": {"values": [
     {"row": 0, "g": "Different Groups", "p": "Prediction Probability"},
     {"row": 1, "g": "ICU", "p": "60±6.97 %"},
     {"row": 2, "g": "Isoflurane", "p": "60.5±8 %"},
     {"row": 3, "g": "Propofol", "p": "62.5±9 %"}
    ]},
    "layer": [
     {"data": {"values": [{}]}, "mark": {"type": "rule", "color": "#000", "strokeWidth": 1.3}, "encoding": {"x": {"datum": 30, "type": "quantitative", "scale": {"domain": [0, 442], "nice": false, "zero": false}, "axis": null}, "x2": {"datum": 437}, "y": {"datum": -0.5, "type": "quantitative", "scale": {"domain": [-0.5, 3.5], "reverse": true, "nice": false, "zero": false}, "axis": null}}},
     {"data": {"values": [{}]}, "mark": {"type": "rule", "color": "#000", "strokeWidth": 0.9}, "encoding": {"x": {"datum": 30, "type": "quantitative", "scale": {"domain": [0, 442], "nice": false, "zero": false}, "axis": null}, "x2": {"datum": 437}, "y": {"datum": 0.5, "type": "quantitative", "scale": {"domain": [-0.5, 3.5], "reverse": true, "nice": false, "zero": false}, "axis": null}}},
     {"data": {"values": [{}]}, "mark": {"type": "rule", "color": "#000", "strokeWidth": 1.3}, "encoding": {"x": {"datum": 30, "type": "quantitative", "scale": {"domain": [0, 442], "nice": false, "zero": false}, "axis": null}, "x2": {"datum": 437}, "y": {"datum": 3.5, "type": "quantitative", "scale": {"domain": [-0.5, 3.5], "reverse": true, "nice": false, "zero": false}, "axis": null}}},
     {"mark": {"type": "text", "align": "left", "baseline": "middle", "font": "Liberation Serif", "fontSize": 18, "color": "#000"}, "encoding": {"x": {"datum": 64, "type": "quantitative", "scale": {"domain": [0, 442], "nice": false, "zero": false}, "axis": null}, "y": {"field": "row", "type": "quantitative", "scale": {"domain": [-0.5, 3.5], "reverse": true, "nice": false, "zero": false}, "axis": null}, "text": {"field": "g"}}},
     {"mark": {"type": "text", "align": "center", "baseline": "middle", "font": "Liberation Serif", "fontSize": 18, "color": "#000"}, "encoding": {"x": {"datum": 325, "type": "quantitative", "scale": {"domain": [0, 442], "nice": false, "zero": false}, "axis": null}, "y": {"field": "row", "type": "quantitative", "scale": {"domain": [-0.5, 3.5], "reverse": true, "nice": false, "zero": false}, "axis": null}, "text": {"field": "p"}}}
    ]},
   {"width": 1, "height": 27, "data": {"values": []}, "mark": "point"},
   {"width": 442, "height": 26,
    "data": {"values": [{"line": 0, "t": "3.2. LRE"}]},
    "mark": {"type": "text", "align": "left", "baseline": "middle", "font": "Liberation Sans", "fontSize": 21, "fontWeight": "bold", "color": "#000"},
    "encoding": {"x": {"datum": 0, "type": "quantitative", "scale": {"domain": [0, 442], "nice": false, "zero": false}, "axis": null}, "y": {"field": "line", "type": "quantitative", "scale": {"domain": [-0.5, 0.5], "reverse": true, "nice": false, "zero": false}, "axis": null}, "text": {"field": "t"}}},
   {"width": 1, "height": 9.4, "data": {"values": []}, "mark": "point"},
   {"width": 442, "height": 185.6,
    "encoding": {"y": {"field": "line", "type": "quantitative", "scale": {"domain": [-0.5, 7.5], "reverse": true, "nice": false, "zero": false}, "axis": null}, "text": {"field": "t"}},
    "layer": [
     {"data": {"values": [
       {"line": 0, "t": "LRE \u2009is \u2009inversely \u2009proportional \u2009to \u2009the \u2009\u200aBIS index, that is,"},
       {"line": 1, "t": "LRE \u2009increases \u2009with \u2009the \u2009increasing \u2009depth \u2009of \u2009anesthesia."},
       {"line": 2, "t": "Scatterplots shown in"},
       {"line": 3, "t": "the above claim."},
       {"line": 4, "t": "\u200b\u00a0\u00a0\u00a0\u00a0\u00a0In \u2009order \u2009to \u2009compare \u2009the \u2009efficiency of LRE algorithm"},
       {"line": 5, "t": "in \u2009\u200adifferent \u2009\u200agroups \u2009we \u2009should \u2009refer \u2009to"},
       {"line": 6, "t": "figure \u2009\u200aindicates \u2009\u200athat \u2009there \u2009is \u2009no \u2009obvious \u2009superiority \u2009in"},
       {"line": 7, "t": "any of these groups."}
      ]}, "mark": {"type": "text", "align": "left", "baseline": "middle", "font": "Liberation Serif", "fontSize": 19, "color": "#000"}, "encoding": {"x": {"datum": 0, "type": "quantitative", "scale": {"domain": [0, 442], "nice": false, "zero": false}, "axis": null}}},
     {"data": {"values": [{"line": 2, "t": "Figure 4"}]}, "mark": {"type": "text", "align": "left", "baseline": "middle", "font": "Liberation Serif", "fontSize": 19, "fontWeight": "bold", "color": "#e3161d"}, "encoding": {"x": {"datum": 170, "type": "quantitative", "scale": {"domain": [0, 442], "nice": false, "zero": false}, "axis": null}}},
     {"data": {"values": [{"line": 2, "t": "and"}]}, "mark": {"type": "text", "align": "left", "baseline": "middle", "font": "Liberation Serif", "fontSize": 19, "color": "#000"}, "encoding": {"x": {"datum": 244, "type": "quantitative", "scale": {"domain": [0, 442], "nice": false, "zero": false}, "axis": null}}},
     {"data": {"values": [{"line": 2, "t": "Figure 5"}]}, "mark": {"type": "text", "align": "left", "baseline": "middle", "font": "Liberation Serif", "fontSize": 19, "fontWeight": "bold", "color": "#e3161d"}, "encoding": {"x": {"datum": 277, "type": "quantitative", "scale": {"domain": [0, 442], "nice": false, "zero": false}, "axis": null}}},
     {"data": {"values": [{"line": 2, "t": "could prove"}]}, "mark": {"type": "text", "align": "left", "baseline": "middle", "font": "Liberation Serif", "fontSize": 19, "color": "#000"}, "encoding": {"x": {"datum": 351, "type": "quantitative", "scale": {"domain": [0, 442], "nice": false, "zero": false}, "axis": null}}},
     {"data": {"values": [{"line": 5, "t": "Figure 3"}]}, "mark": {"type": "text", "align": "left", "baseline": "middle", "font": "Liberation Serif", "fontSize": 19, "fontWeight": "bold", "color": "#e3161d"}, "encoding": {"x": {"datum": 322, "type": "quantitative", "scale": {"domain": [0, 442], "nice": false, "zero": false}, "axis": null}}},
     {"data": {"values": [{"line": 5, "t": ". \u2009\u2009This"}]}, "mark": {"type": "text", "align": "left", "baseline": "middle", "font": "Liberation Serif", "fontSize": 19, "color": "#000"}, "encoding": {"x": {"datum": 387.5, "type": "quantitative", "scale": {"domain": [0, 442], "nice": false, "zero": false}, "axis": null}}}
    ]}
  ], "spacing": 0, "bounds": "flush"}
 ], "spacing": 508, "bounds": "flush"},
 {"width": 969, "height": 1413,
  "encoding": {"y": {"datum": 1399, "type": "quantitative", "scale": {"domain": [0, 1413], "reverse": true, "nice": false, "zero": false}, "axis": null}, "text": {"field": "t"}},
  "layer": [
   {"data": {"values": [{"t": "SciRes"}]}, "mark": {"type": "text", "align": "left", "baseline": "middle", "font": "Liberation Sans", "fontSize": 20, "fontWeight": "bold", "color": "#e3161d"}, "encoding": {"x": {"datum": 2, "type": "quantitative", "scale": {"domain": [0, 969], "nice": false, "zero": false}, "axis": null}}},
   {"data": {"values": [{"t": "Copyright © 2009"}]}, "mark": {"type": "text", "align": "left", "baseline": "middle", "font": "Liberation Sans", "fontSize": 20, "fontWeight": "bold", "color": "#000"}, "encoding": {"x": {"datum": 74, "type": "quantitative", "scale": {"domain": [0, 969], "nice": false, "zero": false}, "axis": null}}},
   {"data": {"values": [{"t": "JBiSE"}]}, "mark": {"type": "text", "align": "right", "baseline": "middle", "font": "Liberation Serif", "fontSize": 19, "fontWeight": "bold", "color": "#e3161d"}, "encoding": {"x": {"datum": 967, "type": "quantitative", "scale": {"domain": [0, 969], "nice": false, "zero": false}, "axis": null}}}
  ]}
]
}
